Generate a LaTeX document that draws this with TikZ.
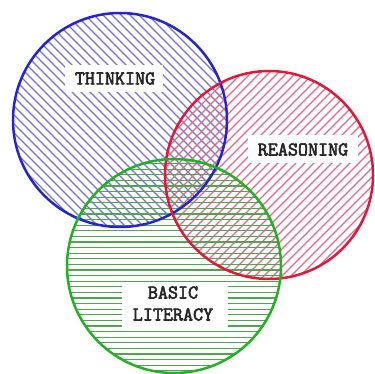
\documentclass[tikz,border=0pt]{standalone}
\usepackage{fontspec}
\newfontfamily\labelfont[FakeBold=3]{Latin Modern Mono}
\definecolor{bhatch}{RGB}{118,114,210}
\definecolor{bline}{RGB}{36,36,210}
\definecolor{rhatch}{RGB}{224,104,136}
\definecolor{rline}{RGB}{226,24,56}
\definecolor{ghatch}{RGB}{80,166,80}
\definecolor{gline}{RGB}{36,176,36}
\begin{document}
\begin{tikzpicture}[x=1pt,y=-1pt,
  hatch/.style={line width=1.1pt},
  ring/.style={line width=2.5pt},
  lbl/.style={font=\labelfont\fontsize{19.5}{22}\selectfont, align=center, inner sep=0pt, text=black!85}]
\useasboundingbox (0,0) rectangle (374,374);
\coordinate (cb) at (120,120);
\coordinate (cr) at (269,175);
\coordinate (cg) at (174,266);
% blue hatching
\begin{scope}
  \clip (cb) circle[radius=107];
  \foreach \c in {-380,-371,...,380} \draw[hatch,bhatch] (\c,0) -- ++(380,380);
\end{scope}
% red hatching
\begin{scope}
  \clip (cr) circle[radius=104];
  \foreach \c in {0,9,...,760} \draw[hatch,rhatch] (\c,0) -- ++(-380,380);
\end{scope}
% green hatching
\begin{scope}
  \clip (cg) circle[radius=107];
  \foreach \c in {158,163.6,...,376} \draw[hatch,ghatch] (60,\c) -- (290,\c);
\end{scope}
% white label boxes
\fill[white] (65,65) rectangle (163,92);
\fill[white] (248,135) rectangle (358,163);
\fill[white] (122,283) rectangle (228,330);
% outlines
\draw[ring,bline] (cb) circle[radius=107];
\draw[ring,rline] (cr) circle[radius=104];
\draw[ring,gline] (cg) circle[radius=107];
% labels
\node[lbl] (thinking) at (115,78.5) {THINKING};
\node[lbl] (reasoning) at (303,149.5) {REASONING};
\node[lbl] (literacy) at (173,303.5) {BASIC\\LITERACY};
\end{tikzpicture}
\end{document}
